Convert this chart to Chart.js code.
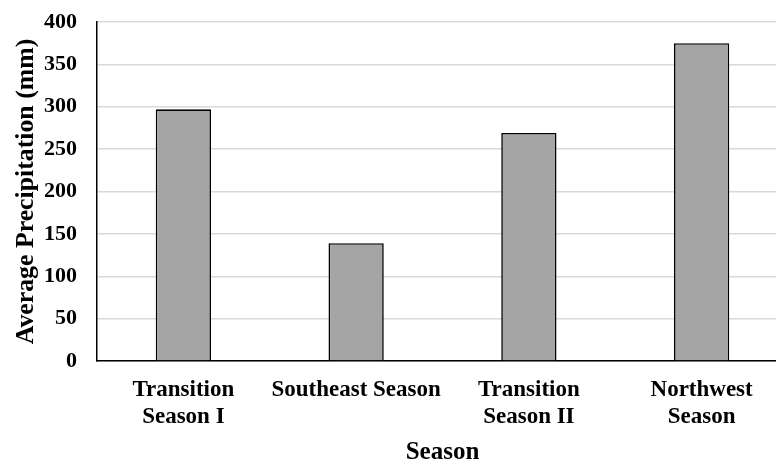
<!DOCTYPE html>
<html>
<head>
<meta charset="utf-8">
<script src="https://cdn.jsdelivr.net/npm/chart.js@4"></script>
<style>
html,body{margin:0;padding:0;background:#fff;overflow:hidden;}
#wrap{width:776px;height:464px;overflow:hidden;}
</style>
</head>
<body>
<div id="wrap"><canvas id="c" width="788" height="464"></canvas></div>
<script>
const categories = [["Transition","Season I"], "Southeast Season", ["Transition","Season II"], ["Northwest","Season"]];
const precipitation = [297, 139, 269, 375];
const yTicks = [0, 50, 100, 150, 200, 250, 300, 350, 400];

new Chart(document.getElementById('c'), {
  type: 'bar',
  data: {
    labels: categories,
    datasets: [{
      data: precipitation,
      backgroundColor: '#a5a5a5',
      borderColor: '#000',
      borderWidth: 1.6,
      categoryPercentage: 0.32,
      barPercentage: 1
    }]
  },
  options: {
    responsive: false,
    animation: false,
    layout: { padding: { top: 22, right: 0, left: 13, bottom: 0 } },
    plugins: { legend: { display: false }, tooltip: { enabled: false } },
    scales: {
      x: {
        afterFit: (axis) => { axis.height = 103; axis.paddingLeft = 0; axis.paddingRight = 0; },
        grid: { display: false },
        border: { color: '#000', width: 1.5 },
        ticks: {
          color: '#000', padding: 8, maxRotation: 0, autoSkip: false,
          font: { family: 'Liberation Serif', weight: 'bold', size: 23, lineHeight: 1.17 }
        },
        title: {
          display: true, text: 'Season', color: '#000', padding: { top: 0, bottom: 0 },
          font: { family: 'Liberation Serif', weight: 'bold', size: 25, lineHeight: 0.88 }
        }
      },
      y: {
        min: 0, max: 400,
        afterFit: (axis) => { axis.width = 84; axis.paddingTop = 0; axis.paddingBottom = 0; },
        afterBuildTicks: (axis) => { axis.ticks = yTicks.map(v => ({ value: v })); },
        grid: { color: '#d9d9d9', lineWidth: 1.5, drawTicks: false },
        border: { color: '#000', width: 1.5 },
        ticks: {
          color: '#000', padding: 20,
          font: { family: 'Liberation Serif', weight: 'bold', size: 22 }
        },
        title: {
          display: true, text: 'Average Precipitation (mm)', color: '#000', padding: { top: 0, bottom: 0 },
          font: { family: 'Liberation Serif', weight: 'bold', size: 25.8, lineHeight: 1.0 }
        }
      }
    }
  }
});
</script>
</body>
</html>
